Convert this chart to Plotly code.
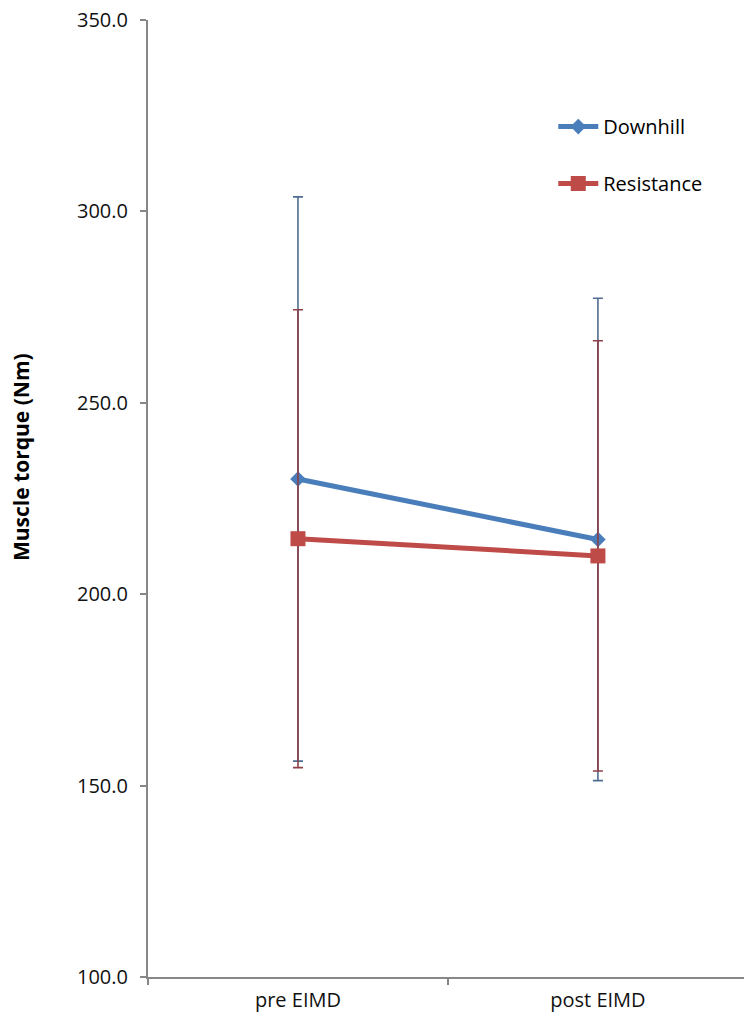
import plotly.graph_objects as go

# Muscle torque before and after exercise-induced muscle damage (mean ± SD)
categories = ["pre EIMD", "post EIMD"]
downhill_mean = [230.1, 214.3]
downhill_sd = [73.7, 63.0]
resistance_mean = [214.5, 210.0]
resistance_sd = [59.8, 56.2]

y_ticks = [100, 150, 200, 250, 300, 350]

BLUE = "#4A7EBB"
RED = "#BE4B48"
AXIS = "#878787"
FONT = "Open Sans"

fig = go.Figure()

fig.add_trace(go.Scatter(
    x=categories, y=downhill_mean, name="Downhill",
    mode="lines+markers",
    line=dict(color=BLUE, width=5),
    marker=dict(symbol="diamond", size=12, color=BLUE),
    error_y=dict(type="data", array=downhill_sd, visible=True,
                 color="#4F6D91", thickness=1.6, width=5),
    legendgroup="d",
))
fig.add_trace(go.Scatter(
    x=categories, y=resistance_mean, name="Resistance",
    mode="lines+markers",
    line=dict(color=RED, width=5),
    marker=dict(symbol="square", size=15, color=RED),
    error_y=dict(type="data", array=resistance_sd, visible=True,
                 color="#8E3F48", thickness=1.6, width=5),
    legendgroup="r",
))

fig.update_layout(
    width=744, height=1019,
    margin=dict(l=148, r=0, t=20, b=42),
    paper_bgcolor="white", plot_bgcolor="white",
    font=dict(family=FONT, size=20, color="#111111"),
    showlegend=True,
    legend=dict(
        x=0.68, y=0.909, xanchor="left", yanchor="top",
        bgcolor="rgba(0,0,0,0)", font=dict(size=20, color="#000000"),
        tracegroupgap=28, itemwidth=40,
    ),
    annotations=[dict(
        text="<b>Muscle torque (Nm)</b>", textangle=-90,
        xref="paper", yref="paper", x=-0.212, y=0.543,
        xanchor="center", yanchor="middle", showarrow=False,
        font=dict(family=FONT, size=21, color="#000000"),
    )],
)

fig.update_xaxes(
    type="category", range=[-0.5, 1.487],
    showline=True, linecolor=AXIS, linewidth=2,
    ticks="outside", tickson="boundaries", ticklen=6, tickcolor=AXIS, tickwidth=1.5,
    showgrid=False, zeroline=False, ticklabelstandoff=4,
)
fig.update_yaxes(
    range=[100, 350], tickvals=y_ticks, tickformat=".1f",
    showline=True, linecolor=AXIS, linewidth=2,
    ticks="outside", ticklen=6, tickcolor=AXIS, tickwidth=1.5,
    showgrid=False, zeroline=False, ticklabelstandoff=8,
)

fig.write_html("out.html")
